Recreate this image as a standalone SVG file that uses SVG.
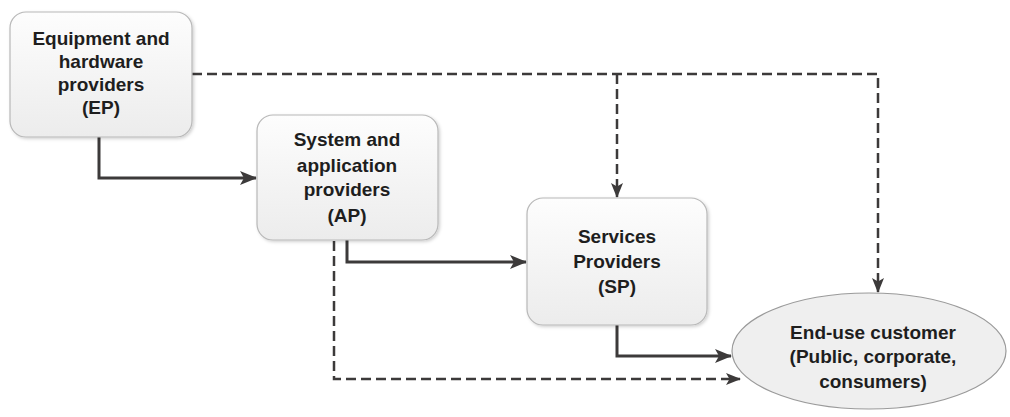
<svg xmlns="http://www.w3.org/2000/svg" width="1010" height="417" viewBox="0 0 1010 417">
<style>
.box{fill:url(#g);stroke:#b8b8b8;stroke-width:1.2;filter:url(#sh)}
.lbl{font-family:"Liberation Sans",Arial,sans-serif;font-weight:bold;font-size:19px;fill:#1e1e1e;text-anchor:middle}
.solid{fill:none;stroke:#3c3a3a;stroke-width:3}
.dash{fill:none;stroke:#3c3a3a;stroke-width:2.5;stroke-dasharray:10 5}
</style>
<defs>
<linearGradient id="g" x1="0" y1="0" x2="0" y2="1">
<stop offset="0" stop-color="#fdfdfd"/>
<stop offset="1" stop-color="#ececec"/>
</linearGradient>
<filter id="sh" x="-10%" y="-10%" width="125%" height="125%">
<feDropShadow dx="1.5" dy="1.5" stdDeviation="1.5" flood-color="#000" flood-opacity="0.18"/>
</filter>
<marker id="ah" markerUnits="userSpaceOnUse" markerWidth="17" markerHeight="14" refX="16" refY="7" orient="auto">
<path d="M0,0 L17,7 L0,14 L4,7 Z" fill="#3c3a3a"/>
</marker>
<marker id="ahs" markerUnits="userSpaceOnUse" markerWidth="15" markerHeight="12" refX="14" refY="6" orient="auto">
<path d="M0,0 L15,6 L0,12 L3.5,6 Z" fill="#3c3a3a"/>
</marker>
</defs>
<rect width="1010" height="417" fill="#ffffff"/>
<g id="connectors">
<path class="solid" d="M99,137 V178 H256" marker-end="url(#ah)"/>
<path class="solid" d="M347,240 V262 H526" marker-end="url(#ah)"/>
<path class="solid" d="M617,325 V356 H731" marker-end="url(#ah)"/>
<path class="dash" d="M192,74 H878 V292" marker-end="url(#ahs)"/>
<path class="dash" d="M617,74 V197" marker-end="url(#ahs)"/>
<path class="dash" d="M334,241 V379 H740" marker-end="url(#ahs)"/>
</g>
<g id="ep">
<rect class="box" x="10" y="12" width="182" height="125" rx="16"/>
<text class="lbl" x="101" y="45">Equipment and</text>
<text class="lbl" x="101" y="68">hardware</text>
<text class="lbl" x="101" y="91">providers</text>
<text class="lbl" x="101" y="114">(EP)</text>
</g>
<g id="ap">
<rect class="box" x="257" y="115" width="181" height="125" rx="16"/>
<text class="lbl" x="347" y="146">System and</text>
<text class="lbl" x="347" y="172">application</text>
<text class="lbl" x="347" y="196">providers</text>
<text class="lbl" x="347" y="222">(AP)</text>
</g>
<g id="sp">
<rect class="box" x="527" y="198" width="180" height="127" rx="16"/>
<text class="lbl" x="617" y="243">Services</text>
<text class="lbl" x="617" y="268">Providers</text>
<text class="lbl" x="617" y="293">(SP)</text>
</g>
<g id="customer">
<ellipse cx="869" cy="351" rx="137" ry="58" fill="#efefef" stroke="#9a9a9a" stroke-width="1.2"/>
<text class="lbl" x="873" y="339">End-use customer</text>
<text class="lbl" x="873" y="363">(Public, corporate,</text>
<text class="lbl" x="873" y="388">consumers)</text>
</g>
</svg>
